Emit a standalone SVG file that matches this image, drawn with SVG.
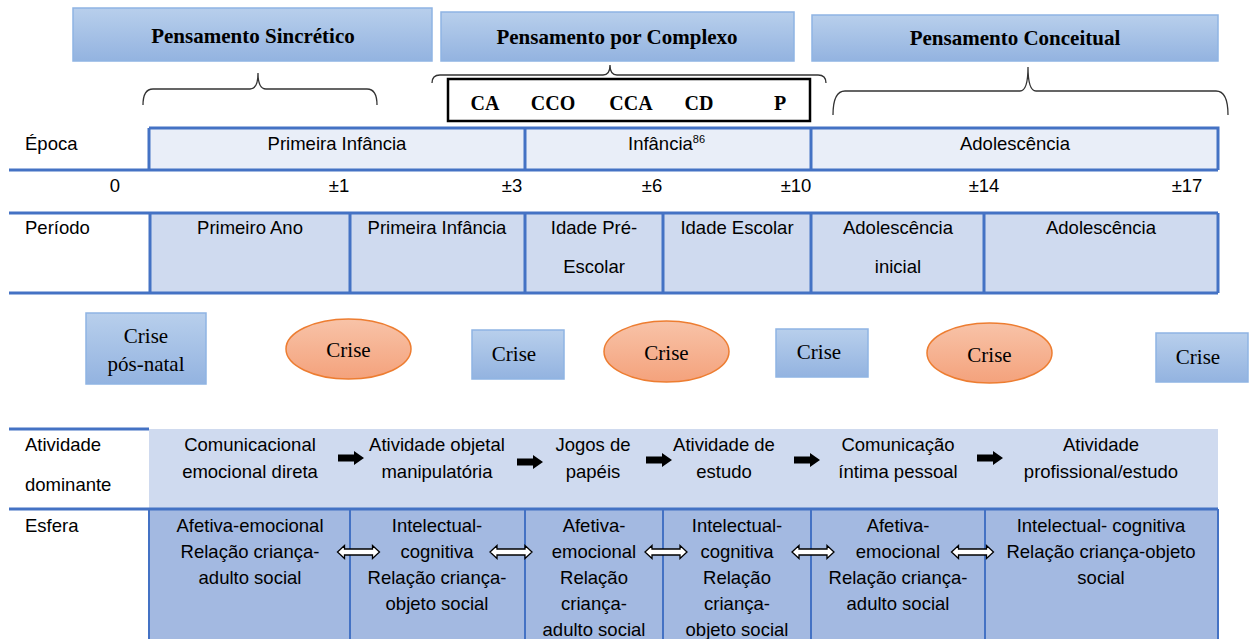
<svg xmlns="http://www.w3.org/2000/svg" width="1250" height="639" viewBox="0 0 1250 639">
<defs>
<linearGradient id="bg" x1="0" y1="0" x2="0" y2="1"><stop offset="0" stop-color="#B8CFEC"/><stop offset="1" stop-color="#93B3E0"/></linearGradient>
<linearGradient id="og" x1="0" y1="0" x2="0" y2="1"><stop offset="0" stop-color="#F8C3A8"/><stop offset="1" stop-color="#F4A27C"/></linearGradient>
<path id="blk" d="M0,-3.5 L16,-3.5 L16,-7 L26,0 L16,7 L16,3.5 L0,3.5 Z" fill="#000"/>
<path id="dbl" d="M-21,0 L-14,-6.5 L-14,-3 L14,-3 L14,-6.5 L21,0 L14,6.5 L14,3 L-14,3 L-14,6.5 Z" fill="#fff" stroke="#000" stroke-width="1.3" stroke-linejoin="miter"/>
</defs>
<style>
.hd{fill:url(#bg);stroke:#8FB4E3;stroke-width:1.5}
.ht{font-family:"Liberation Serif",serif;font-weight:bold;font-size:21px;fill:#000;text-anchor:middle}
.ca{font-family:"Liberation Serif",serif;font-weight:bold;font-size:20px;fill:#000;text-anchor:middle}
.cr{font-family:"Liberation Serif",serif;font-size:21px;fill:#000;text-anchor:middle}
.t{font-family:"Liberation Sans",sans-serif;font-size:18.5px;fill:#000;text-anchor:middle}
.l{font-family:"Liberation Sans",sans-serif;font-size:18.5px;fill:#000}
.br{fill:none;stroke:#333;stroke-width:1.3}
.bl{stroke:#4472C4;stroke-width:3;fill:none}
.bt{stroke:#4472C4;stroke-width:2;fill:none}
.ell{fill:url(#og);stroke:#ED7D31;stroke-width:1.5}
.cb{fill:url(#bg);stroke:#8FB4E3;stroke-width:1.5}
</style>

<g id="headers">
<g id="h-sincretico"><rect class="hd" x="73" y="8" width="359" height="53"/><text class="ht" x="253" y="43">Pensamento Sincrético</text></g>
<g id="h-complexo"><rect class="hd" x="441" y="12" width="353" height="49"/><text class="ht" x="617" y="44">Pensamento por Complexo</text></g>
<g id="h-conceitual"><rect class="hd" x="812" y="15" width="406" height="46"/><text class="ht" x="1015" y="45">Pensamento Conceitual</text></g>
</g>

<g id="braces">
<path class="br" d="M143,105 Q143,89 153,89 L250,89 Q258,89 258,73 Q258,89 266,89 L367,89 Q377,89 377,105"/>
<path class="br" d="M432,83 Q432,75 440,75 L603,75 Q610,75 610,65 Q610,75 617,75 L818,75 Q826,75 826,83"/>
<path class="br" d="M833,115 Q833,91 845,91 L1020,91 Q1028,91 1028,67 Q1028,91 1036,91 L1216,91 Q1228,91 1228,115"/>
</g>

<g id="complex-types">
<rect x="448" y="79" width="362" height="42" fill="#fff" stroke="#000" stroke-width="2.5"/>
<text class="ca" x="485" y="110">CA</text>
<text class="ca" x="553" y="110">CCO</text>
<text class="ca" x="631" y="110">CCA</text>
<text class="ca" x="699" y="110">CD</text>
<text class="ca" x="780" y="110">P</text>
</g>

<g id="epoca">
<rect x="149" y="128" width="1069" height="42" fill="#E9EEF8"/>
<path class="bl" d="M149,128 L1218,128 L1218,170 M9,170 L1218,170 M149,128 L149,170 M525,128 L525,170 M811,128 L811,170"/>
<text class="l" x="25" y="150">Época</text>
<text class="t" x="337" y="150">Primeira Infância</text>
<text class="l" x="628" y="150">Infância<tspan font-size="11" dy="-7">86</tspan></text>
<text class="t" x="1015" y="150">Adolescência</text>
</g>

<g id="idades">
<text class="t" x="115" y="192">0</text>
<text class="t" x="339" y="192">±1</text>
<text class="t" x="512" y="192">±3</text>
<text class="t" x="652" y="192">±6</text>
<text class="t" x="796" y="192">±10</text>
<text class="t" x="984" y="192">±14</text>
<text class="t" x="1187" y="192">±17</text>
</g>

<g id="periodo">
<rect x="150" y="213" width="1068" height="80" fill="#CFDAEF"/>
<path class="bl" d="M9,213 L1218,213 M9,293 L1218,293 M150,213 L150,293 M350,213 L350,293 M525,213 L525,293 M663,213 L663,293 M811,213 L811,293 M984,213 L984,293 M1218,213 L1218,293"/>
<text class="l" x="25" y="234">Período</text>
<text class="t" x="250" y="234">Primeiro Ano</text>
<text class="t" x="437" y="234">Primeira Infância</text>
<text class="t" x="594" y="234">Idade Pré-</text>
<text class="t" x="594" y="273">Escolar</text>
<text class="t" x="737" y="234">Idade Escolar</text>
<text class="t" x="898" y="234">Adolescência</text>
<text class="t" x="898" y="273">inicial</text>
<text class="t" x="1101" y="234">Adolescência</text>
</g>

<g id="crises">
<g id="crise-posnatal"><rect class="cb" x="86" y="313" width="120" height="71"/><text class="cr" x="146" y="343">Crise</text><text class="cr" x="146" y="371">pós-natal</text></g>
<g id="crise-1"><ellipse class="ell" cx="348.5" cy="349" rx="62.5" ry="30"/><text class="cr" x="348.5" y="357">Crise</text></g>
<g id="crise-3"><rect class="cb" x="472" y="330" width="92" height="49"/><text class="cr" x="514" y="361">Crise</text></g>
<g id="crise-7"><ellipse class="ell" cx="666.5" cy="351.5" rx="62.5" ry="30.5"/><text class="cr" x="666.5" y="360">Crise</text></g>
<g id="crise-10"><rect class="cb" x="776" y="329" width="92" height="48"/><text class="cr" x="819" y="359">Crise</text></g>
<g id="crise-13"><ellipse class="ell" cx="989.5" cy="353" rx="62.5" ry="30"/><text class="cr" x="989.5" y="362">Crise</text></g>
<g id="crise-17"><rect class="cb" x="1156" y="333" width="92" height="49"/><text class="cr" x="1198" y="364">Crise</text></g>
</g>

<g id="atividade">
<rect x="149" y="429" width="1069" height="80" fill="#CFDAEF"/>
<path class="bl" d="M9,429 L149,429"/>
<text class="l" x="25" y="451">Atividade</text>
<text class="l" x="25" y="491">dominante</text>
<text class="t" x="250" y="451">Comunicacional</text><text class="t" x="250" y="478">emocional direta</text>
<text class="t" x="437" y="451">Atividade objetal</text><text class="t" x="437" y="478">manipulatória</text>
<text class="t" x="593" y="451">Jogos de</text><text class="t" x="593" y="478">papéis</text>
<text class="t" x="724" y="451">Atividade de</text><text class="t" x="724" y="478">estudo</text>
<text class="t" x="898" y="451">Comunicação</text><text class="t" x="898" y="478">íntima pessoal</text>
<text class="t" x="1101" y="451">Atividade</text><text class="t" x="1101" y="478">profissional/estudo</text>
</g>

<g id="esfera">
<rect x="149" y="509" width="1069" height="130" fill="#A3B9E1"/>
<path class="bt" d="M149,509 L149,639 M350,509 L350,639 M525,509 L525,639 M663,509 L663,639 M811,509 L811,639 M985,509 L985,639 M1218,509 L1218,639"/>
<path class="bl" d="M9,509 L1218,509"/>
<text class="l" x="25" y="532">Esfera</text>
<text class="t" x="250" y="532">Afetiva-emocional</text><text class="t" x="250" y="558">Relação criança-</text><text class="t" x="250" y="584">adulto social</text>
<text class="t" x="437" y="532">Intelectual-</text><text class="t" x="437" y="558">cognitiva</text><text class="t" x="437" y="584">Relação criança-</text><text class="t" x="437" y="610">objeto social</text>
<text class="t" x="594" y="532">Afetiva-</text><text class="t" x="594" y="558">emocional</text><text class="t" x="594" y="584">Relação</text><text class="t" x="594" y="610">criança-</text><text class="t" x="594" y="636">adulto social</text>
<text class="t" x="737" y="532">Intelectual-</text><text class="t" x="737" y="558">cognitiva</text><text class="t" x="737" y="584">Relação</text><text class="t" x="737" y="610">criança-</text><text class="t" x="737" y="636">objeto social</text>
<text class="t" x="898" y="532">Afetiva-</text><text class="t" x="898" y="558">emocional</text><text class="t" x="898" y="584">Relação criança-</text><text class="t" x="898" y="610">adulto social</text>
<text class="t" x="1101" y="532">Intelectual- cognitiva</text><text class="t" x="1101" y="558">Relação criança-objeto</text><text class="t" x="1101" y="584">social</text>
</g>

<g id="connectors">
<use href="#blk" x="338" y="458"/>
<use href="#blk" x="517" y="462"/>
<use href="#blk" x="646" y="460"/>
<use href="#blk" x="794" y="460"/>
<use href="#blk" x="977" y="458"/>
<use href="#dbl" x="358.5" y="552"/>
<use href="#dbl" x="511" y="552"/>
<use href="#dbl" x="666" y="552"/>
<use href="#dbl" x="813" y="552"/>
<use href="#dbl" x="972.5" y="552"/>
</g>
</svg>
